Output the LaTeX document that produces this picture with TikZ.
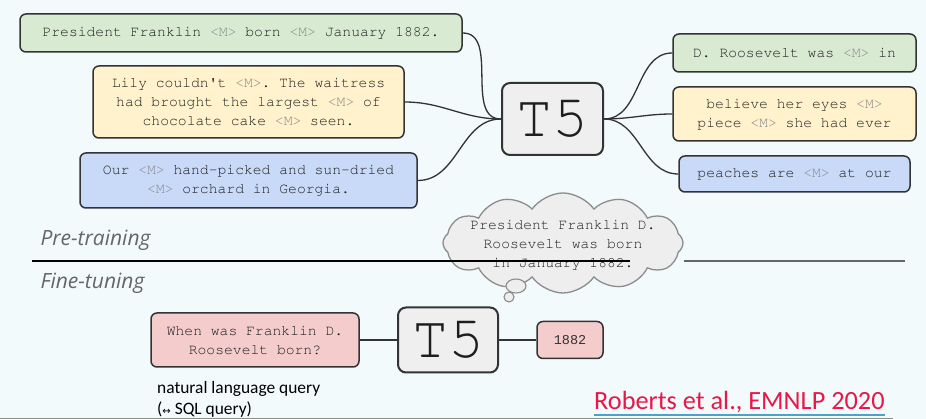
\documentclass[tikz,border=0pt]{standalone}
\usepackage[T1]{fontenc}
\usepackage{fontspec}
\setmainfont{Carlito}
\newfontfamily\opensans{Open Sans}
\newfontfamily\symfont{DejaVu Sans}
\newfontfamily\libmono{Liberation Mono}
\usetikzlibrary{shapes.symbols, positioning}
\frenchspacing

\definecolor{bgc}{HTML}{F2FAFC}
\definecolor{edge}{HTML}{333333}
\definecolor{txt}{HTML}{1E1E1E}
\definecolor{masktxt}{HTML}{8A8A8A}
\definecolor{gfill}{HTML}{D9EAD3}
\definecolor{yfill}{HTML}{FFF2CC}
\definecolor{bfill}{HTML}{C9DAF8}
\definecolor{pfill}{HTML}{F4CCCC}
\definecolor{mfill}{HTML}{EFEFEF}
\definecolor{cloudfill}{HTML}{EEEEEE}
\definecolor{cloudline}{HTML}{8C8C8C}
\definecolor{phase}{HTML}{666666}
\definecolor{citered}{HTML}{E8174A}
\definecolor{citeline}{HTML}{4BA3C8}

\newcommand{\cour}{\fontencoding{T1}\fontfamily{pcr}\selectfont}
\newcommand{\msk}{\textcolor{masktxt}{<M>}}
\newcommand{\apos}{{\fontencoding{TS1}\fontfamily{pcr}\selectfont\char"27}}
\newcommand{\sentfont}{\cour\fontsize{14.7}{19}\selectfont}

\begin{document}
\begin{tikzpicture}[
  x=1pt,y=1pt,
  sent/.style={draw=edge, line width=1.5pt, rounded corners=6pt, align=center, text=txt, inner sep=0pt, font=\sentfont},
  model/.style={draw=edge, line width=2pt, rounded corners=8pt, fill=mfill, inner sep=0pt, text=txt, font=\cour\fontsize{60}{60}\selectfont},
  link/.style={draw=edge, line width=1.3pt},
  phaselbl/.style={anchor=base west, text=phase, font=\opensans\itshape\fontsize{21}{24}\selectfont}
]
\useasboundingbox (0,0) rectangle (926,419);
\fill[bgc] (0,0) rectangle (926,419);

% pre-training inputs
\node[sent, fill=gfill, minimum width=442, minimum height=38] (g1) at (241,386) {President Franklin \msk{} born \msk{} January 1882.};
\node[sent, fill=yfill, minimum width=311, minimum height=72] (y1) at (248.5,317) {Lily couldn\apos t \msk{}. The waitress\\had brought the largest \msk{} of\\chocolate cake \msk{} seen.};
\node[sent, fill=bfill, minimum width=337, minimum height=55] (b1) at (248.5,238.5) {Our \msk{} hand-picked and sun-dried\\\msk{} orchard in Georgia.};

% pre-training model
\node[model, minimum width=101, minimum height=72] (t5a) at (552.5,300) {T5};

% pre-training targets
\node[sent, fill=gfill, minimum width=243, minimum height=38] (g2) at (794.5,366) {D. Roosevelt was \msk{} in};
\node[sent, fill=yfill, minimum width=243, minimum height=54] (y2) at (794.5,305) {believe her eyes \msk{}\\piece \msk{} she had ever};
\node[sent, fill=bfill, minimum width=231, minimum height=36] (b2) at (794.5,245) {peaches are \msk{} at our};

\draw[link] (g1.east) to[out=0, in=180] (t5a.west);
\draw[link] (y1.east) to[out=0, in=180] (t5a.west);
\draw[link] (b1.east) to[out=0, in=180] (t5a.west);
\draw[link] (t5a.east) to[out=0, in=180] (g2.west);
\draw[link] (t5a.east) to[out=0, in=180] (y2.west);
\draw[link] (t5a.east) to[out=0, in=180] (b2.west);

% thought cloud
\node[cloud, cloud puffs=12, cloud puff arc=110, aspect=2.4, draw=cloudline, line width=1.3pt, fill=cloudfill,
  minimum width=240, minimum height=100, inner sep=0pt] (thought) at (563,176) {};
\node[align=center, text=txt, inner sep=0pt, font=\sentfont] (thoughttxt) at ([yshift=-2pt]thought.center)
  {President Franklin D.\\Roosevelt was born\\in January 1882.};
\draw[cloudline, line width=1.1pt, fill=cloudfill] (516,133) ellipse [x radius=10, y radius=7];
\draw[cloudline, line width=1.1pt, fill=cloudfill] (509,122) circle [radius=5];

% phase divider
\node[phaselbl] (pre) at (37,173) {Pre-training};
\node[phaselbl] (fine) at (37,130) {Fine-tuning};
\coordinate (divl) at (32,158);
\coordinate (divm) at (630,158);
\draw[black, line width=2pt] (divl) -- (divm);
\draw[black!60, line width=1.4pt] (thought.east |- divl) -- (905,158);

% fine-tuning
\node[sent, fill=pfill, minimum width=208, minimum height=54] (query) at (255,79) {When was Franklin D.\\Roosevelt born?};
\node[model, minimum width=100, minimum height=65] (t5b) at (448,79) {T5};
\node[sent, fill=pfill, minimum width=66, minimum height=37, text=edge, font=\libmono\fontsize{13.5}{16}\selectfont] (answer) at (570,79) {1882};
\draw[link] (query.east) -- (t5b.west);
\draw[link] (t5b.east) -- (answer.west);

\node[anchor=base west, inner sep=0pt, font=\fontsize{17.4}{20}\selectfont] (nlq) at (157,25) {natural language query};
\node[anchor=base west, inner sep=0pt, font=\fontsize{17.4}{20}\selectfont] (sql) at (157,4) {({\symfont\fontsize{10}{10}\selectfont ↔} SQL query)};

% citation
\node[anchor=base west, inner sep=0pt, text=citered, font=\fontsize{26.3}{28}\selectfont] (cite) at (594,9) {Roberts et al., EMNLP 2020};
\draw[citeline, line width=1.5pt] ([yshift=-5pt]cite.base west) -- ([yshift=-5pt]cite.base east);
\draw[black!45, line width=1pt] (0,0.5) -- (893,0.5);
\end{tikzpicture}
\end{document}
